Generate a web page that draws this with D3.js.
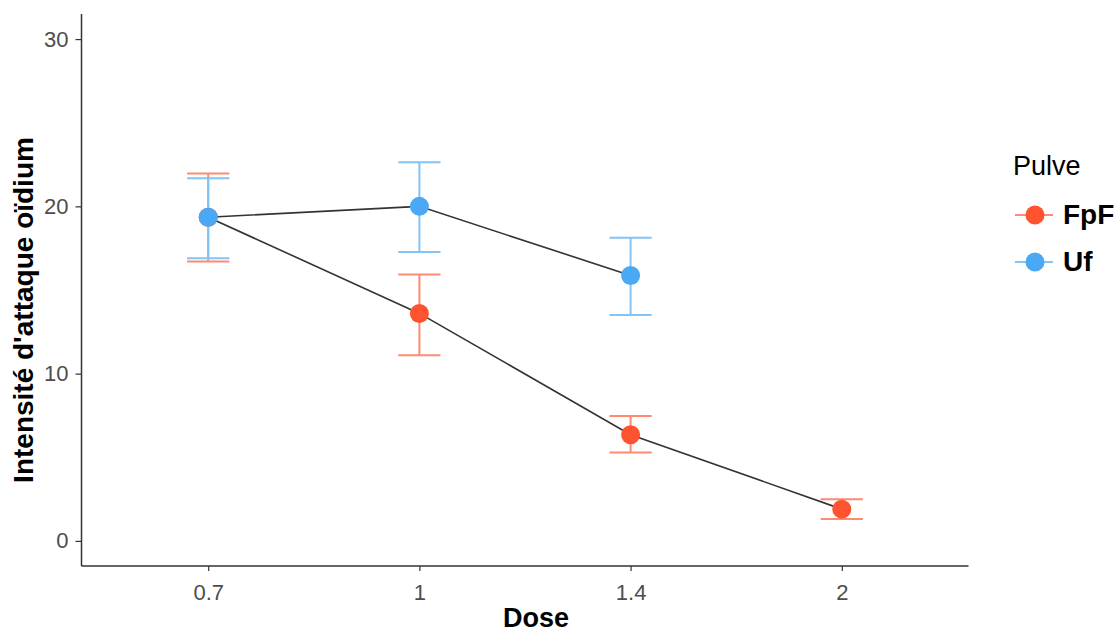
<!DOCTYPE html>
<html>
<head>
<meta charset="utf-8">
<script src="https://cdn.jsdelivr.net/npm/d3@7"></script>
<style>
  html, body { margin: 0; padding: 0; background: #ffffff; }
  svg { display: block; font-family: Arial, "Liberation Sans", sans-serif; }
</style>
</head>
<body>
<svg id="chart" width="1117" height="634"></svg>
<script>
// ---- data ----
const doses = ["0.7", "1", "1.4", "2"];
const seriesNames = ["FpF", "Uf"];
const fpfMean = [19.35, 13.6, 6.35, 1.9];
const fpfLow  = [16.7, 11.1, 5.28, 1.31];
const fpfHigh = [21.97, 15.92, 7.47, 2.49];
const ufDoses = ["0.7", "1", "1.4"];
const ufMean  = [19.35, 20.0, 15.87];
const ufLow   = [16.9, 17.27, 13.51];
const ufHigh  = [21.68, 22.64, 18.13];
const yTicks  = [0, 10, 20, 30];

const colors = { FpF: "#FF5330", Uf: "#4AA8F4" };
const barColors = { FpF: "#FF8A72", Uf: "#82C3F8" };

const series = [
  { name: "FpF", pts: doses.map((d, i) => ({ d, m: fpfMean[i], lo: fpfLow[i], hi: fpfHigh[i] })) },
  { name: "Uf",  pts: ufDoses.map((d, i) => ({ d, m: ufMean[i], lo: ufLow[i], hi: ufHigh[i] })) }
];

const svg = d3.select("#chart");
const panel = { left: 81.5, right: 968.5, top: 14, bottom: 566 };

const x = d3.scalePoint().domain(doses).range([panel.left, panel.right]).padding(0.6);
const y = d3.scaleLinear().domain([-1.5, 31.5]).range([panel.bottom, panel.top]);
const capHalf = x.step() * 0.1;

// axes
const gy = svg.append("g").attr("transform", `translate(${panel.left},0)`)
  .call(d3.axisLeft(y).tickValues(yTicks).tickSize(6).tickPadding(7).tickFormat(d3.format("d")));
const gx = svg.append("g").attr("transform", `translate(0,${panel.bottom})`)
  .call(d3.axisBottom(x).tickSize(5).tickPadding(13));
[gx, gy].forEach(g => {
  g.select(".domain").remove();
  g.selectAll(".tick line").attr("stroke", "#333").attr("stroke-width", 1.2);
  g.selectAll(".tick text").attr("fill", "#4d4d4d").style("font-size", "22px").style("font-family", "Arial, 'Liberation Sans', sans-serif");
});
svg.append("line").attr("x1", panel.left).attr("x2", panel.left).attr("y1", panel.top).attr("y2", panel.bottom)
  .attr("stroke", "#333").attr("stroke-width", 1.5);
svg.append("line").attr("x1", panel.left).attr("x2", panel.right).attr("y1", panel.bottom).attr("y2", panel.bottom)
  .attr("stroke", "#333").attr("stroke-width", 1.5);

// error bars
series.forEach(s => {
  const g = svg.append("g").attr("stroke", barColors[s.name]).attr("stroke-width", 2).attr("fill", "none");
  s.pts.forEach(p => {
    const cx = x(p.d);
    g.append("line").attr("x1", cx).attr("x2", cx).attr("y1", y(p.lo)).attr("y2", y(p.hi));
    g.append("line").attr("x1", cx - capHalf).attr("x2", cx + capHalf).attr("y1", y(p.lo)).attr("y2", y(p.lo));
    g.append("line").attr("x1", cx - capHalf).attr("x2", cx + capHalf).attr("y1", y(p.hi)).attr("y2", y(p.hi));
  });
});

// lines
const line = d3.line().x(p => x(p.d)).y(p => y(p.m));
series.forEach(s => {
  svg.append("path").attr("d", line(s.pts)).attr("fill", "none").attr("stroke", "#333").attr("stroke-width", 1.6);
});

// points
series.forEach(s => {
  svg.append("g").selectAll("circle").data(s.pts).join("circle")
    .attr("cx", p => x(p.d)).attr("cy", p => y(p.m)).attr("r", 9.5).attr("fill", colors[s.name]);
});

// axis titles
svg.append("text").attr("transform", "translate(33,310) rotate(-90)").attr("text-anchor", "middle")
  .style("font-size", "28px").style("font-weight", "bold").attr("fill", "#000").text("Intensité d'attaque oïdium");
svg.append("text").attr("x", 536).attr("y", 627).attr("text-anchor", "middle")
  .style("font-size", "27px").style("font-weight", "bold").attr("fill", "#000").text("Dose");

// legend
const lg = svg.append("g");
lg.append("text").attr("x", 1013).attr("y", 175).style("font-size", "27px").attr("fill", "#000").text("Pulve");
seriesNames.forEach((n, i) => {
  const cy = 215 + i * 47;
  lg.append("line").attr("x1", 1015).attr("x2", 1053).attr("y1", cy).attr("y2", cy)
    .attr("stroke", barColors[n]).attr("stroke-width", 2);
  lg.append("circle").attr("cx", 1035).attr("cy", cy).attr("r", 9.5).attr("fill", colors[n]);
  lg.append("text").attr("x", 1063).attr("y", cy + 9).style("font-size", "28px").style("font-weight", "bold")
    .attr("fill", "#000").text(n);
});
</script>
</body>
</html>
